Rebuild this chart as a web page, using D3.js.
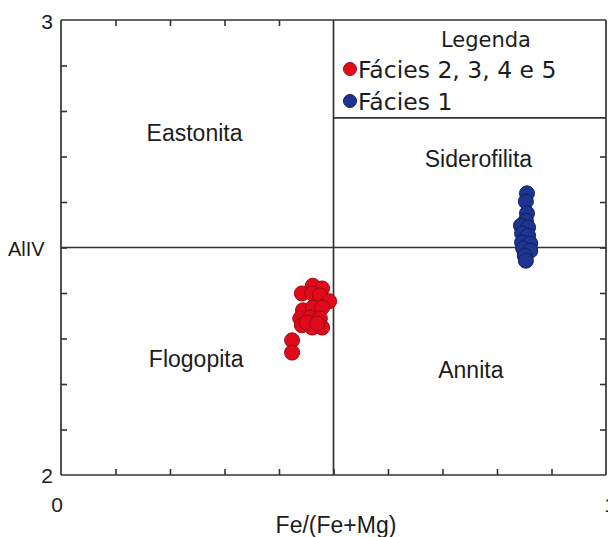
<!DOCTYPE html>
<html>
<head>
<meta charset="utf-8">
<script src="https://cdn.jsdelivr.net/npm/d3@7"></script>
<style>
  html, body { margin: 0; padding: 0; background: #fff; }
  svg { display: block; }
  .lbl { font-family: "Liberation Sans", Arial, sans-serif; fill: #1c1c1c; }
  .leg { font-family: "DejaVu Sans", Verdana, sans-serif; fill: #1c1c1c; }
</style>
</head>
<body>
<svg id="chart" width="608" height="537"></svg>
<script>
// Biotite classification: Fe/(Fe+Mg) versus AlIV
const faciesRedX = [0.462, 0.479, 0.442, 0.461, 0.475, 0.492, 0.444, 0.462, 0.479, 0.439,
                    0.457, 0.475, 0.442, 0.461, 0.479, 0.451, 0.470, 0.424, 0.424];
const faciesRedY = [2.416, 2.410, 2.399, 2.399, 2.395, 2.382, 2.362, 2.368, 2.368, 2.344,
                    2.346, 2.344, 2.329, 2.324, 2.324, 2.335, 2.333, 2.296, 2.269];
const faciesBlueX = [0.855, 0.853, 0.855, 0.853, 0.844, 0.857, 0.846, 0.857, 0.846, 0.861,
                     0.848, 0.861, 0.851, 0.853];
const faciesBlueY = [2.619, 2.601, 2.575, 2.559, 2.548, 2.544, 2.531, 2.526, 2.511, 2.509,
                     2.498, 2.493, 2.482, 2.471];
const seriesNames = ["Fácies 2, 3, 4 e 5", "Fácies 1"];
const regionNames = ["Eastonita", "Siderofilita", "Flogopita", "Annita"];
const xTickLabels = ["0", "1"];
const yTickLabels = ["2", "3"];
const xTicks = [0.1, 0.2, 0.3, 0.4, 0.5, 0.6, 0.7, 0.8, 0.9];
const yTicks = [2.1, 2.2, 2.3, 2.4, 2.5, 2.6, 2.7, 2.8, 2.9];

const svg = d3.select("#chart");
const x = d3.scaleLinear().domain([0, 1]).range([61, 606]);
const y = d3.scaleLinear().domain([2, 3]).range([475, 20]);
const legendBottom = 2.785;   // lower edge of the legend box, in AlIV units
const ink = "#333";

// inward ticks on all four sides (hidden under the legend box)
const g = svg.append("g");
g.append("g").attr("transform", `translate(0,${y(2)})`)
  .call(d3.axisTop(x).tickValues(xTicks).tickSize(6).tickFormat(""));
g.append("g").attr("transform", `translate(0,${y(3)})`)
  .call(d3.axisBottom(x).tickValues(xTicks.filter(v => v < 0.5)).tickSize(6).tickFormat(""));
g.append("g").attr("transform", `translate(${x(0)},0)`)
  .call(d3.axisRight(y).tickValues(yTicks).tickSize(6).tickFormat(""));
g.append("g").attr("transform", `translate(${x(1)},0)`)
  .call(d3.axisLeft(y).tickValues(yTicks.filter(v => v < legendBottom)).tickSize(6).tickFormat(""));
g.selectAll(".domain").remove();
g.selectAll(".tick line").attr("stroke", ink).attr("stroke-width", 1.6);

// frame and field boundaries
const lines = [
  [0, 2, 1, 2], [0, 3, 1, 3], [0, 2, 0, 3], [1, 2, 1, 3],
  [0.5, 2, 0.5, 3], [0, 2.5, 1, 2.5], [0.5, legendBottom, 1, legendBottom]
];
svg.append("g").selectAll("line").data(lines).join("line")
  .attr("x1", d => x(d[0])).attr("y1", d => y(d[1]))
  .attr("x2", d => x(d[2])).attr("y2", d => y(d[3]))
  .attr("stroke", ink).attr("stroke-width", 1.7);

// field names
const regionPos = [[0.245, 2.735], [0.766, 2.678], [0.248, 2.237], [0.752, 2.213]];
svg.append("g").selectAll("text").data(regionNames).join("text")
  .attr("class", "lbl")
  .attr("x", (d, i) => x(regionPos[i][0])).attr("y", (d, i) => y(regionPos[i][1]))
  .attr("text-anchor", "middle").attr("font-size", 23)
  .text(d => d);

// axis numbers and titles
svg.append("text").attr("class", "lbl").attr("font-size", 21)
  .attr("x", x(0) - 4).attr("y", 512).attr("text-anchor", "middle").text(xTickLabels[0]);
svg.append("text").attr("class", "lbl").attr("font-size", 21)
  .attr("x", x(1) + 4).attr("y", 512).attr("text-anchor", "middle").text(xTickLabels[1]);
svg.append("text").attr("class", "lbl").attr("font-size", 21)
  .attr("x", x(0) - 8).attr("y", y(2) + 8).attr("text-anchor", "end").text(yTickLabels[0]);
svg.append("text").attr("class", "lbl").attr("font-size", 21)
  .attr("x", x(0) - 8).attr("y", y(3) + 9).attr("text-anchor", "end").text(yTickLabels[1]);
svg.append("text").attr("class", "lbl").attr("font-size", 20)
  .attr("x", 8).attr("y", y(2.5) + 8).text("AlIV");
svg.append("text").attr("class", "lbl").attr("font-size", 23)
  .attr("x", 336).attr("y", 533).attr("text-anchor", "middle").text("Fe/(Fe+Mg)");

// data points
const pts = [
  { xs: faciesRedX, ys: faciesRedY, fill: "#e10a1b", stroke: "#9c0a14" },
  { xs: faciesBlueX, ys: faciesBlueY, fill: "#1d3590", stroke: "#0f1f5e" }
];
pts.forEach(s => {
  svg.append("g").selectAll("circle").data(s.xs).join("circle")
    .attr("cx", d => x(d)).attr("cy", (d, i) => y(s.ys[i]))
    .attr("r", 7.5).attr("fill", s.fill).attr("stroke", s.stroke).attr("stroke-width", 1);
});

// legend
const lg = svg.append("g");
lg.append("text").attr("class", "leg").attr("font-size", 21)
  .attr("x", 486).attr("y", 47).attr("text-anchor", "middle").text("Legenda");
seriesNames.forEach((name, i) => {
  const cy = 69 + i * 32;
  lg.append("circle").attr("cx", 350).attr("cy", cy).attr("r", 6.5)
    .attr("fill", pts[i].fill).attr("stroke", pts[i].stroke).attr("stroke-width", 1);
  lg.append("text").attr("class", "leg").attr("font-size", 23.5)
    .attr("x", 358).attr("y", cy + 9).text(name);
});
</script>
</body>
</html>
